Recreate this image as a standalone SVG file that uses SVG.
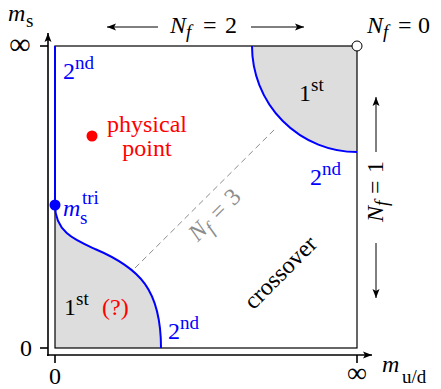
<svg xmlns="http://www.w3.org/2000/svg" width="441" height="389" viewBox="0 0 441 389">
<style>
.t{font-family:"Liberation Serif","DejaVu Serif",serif;font-size:24px;fill:#000}
.i{font-style:italic}
.s{font-size:19px}
.inf{font-size:30px}
.b{fill:#0000ff}
.r{fill:#ff0000}
.g{fill:#8c8c8c}
.ax{stroke:#000;stroke-width:1.6;fill:none}
.ar{stroke:#000;stroke-width:1;fill:none}
.bl{stroke:#0000ff;stroke-width:2;fill:none}
</style>
<defs>
<marker id="ah" markerUnits="userSpaceOnUse" markerWidth="10" markerHeight="8" refX="9" refY="4" orient="auto">
<path d="M0,0.5 L9,4 L0,7.5 L2,4 Z" fill="#000"/>
</marker>
</defs>
<rect width="441" height="389" fill="#fff"/>

<g id="regions">
<path d="M55,205 C55,232 75,240 95,249 C140,268 161,290 161,348 L55,348 Z" fill="#dddddd"/>
<path d="M252,46 A105,106 0 0 0 357,152 L357,46 Z" fill="#dddddd"/>
</g>

<g id="box">
<rect x="55" y="46" width="302" height="302" fill="none" stroke="#000" stroke-width="1.2"/>
</g>

<g id="connectors">
<line x1="135" y1="268" x2="277" y2="127" stroke="#8c8c8c" stroke-width="1" stroke-dasharray="6,4"/>
<path class="bl" d="M55,46 L55,205 C55,232 75,240 95,249 C140,268 161,290 161,348"/>
<path class="bl" d="M252,46 A105,106 0 0 0 357,152"/>
<line class="ax" x1="48" y1="356" x2="48" y2="33" marker-end="url(#ah)"/>
<line class="ax" x1="47" y1="355" x2="372" y2="355" marker-end="url(#ah)"/>
<line class="ax" x1="40" y1="46" x2="48" y2="46"/>
<line class="ax" x1="40" y1="348" x2="48" y2="348"/>
<line class="ax" x1="55" y1="355" x2="55" y2="363"/>
<line class="ax" x1="357" y1="355" x2="357" y2="363"/>
<line class="ar" x1="158" y1="27" x2="107" y2="27" marker-end="url(#ah)"/>
<line class="ar" x1="251" y1="27" x2="304" y2="27" marker-end="url(#ah)"/>
<line class="ar" x1="376" y1="152" x2="376" y2="97" marker-end="url(#ah)"/>
<line class="ar" x1="376" y1="243" x2="376" y2="298" marker-end="url(#ah)"/>
</g>

<g id="points">
<circle cx="357" cy="46" r="5" fill="#fff" stroke="#000" stroke-width="1"/>
<circle cx="55" cy="205" r="5.5" fill="#0000ff"/>
<circle cx="92" cy="136" r="5.5" fill="#ff0000"/>
</g>

<g id="labels">
<text class="t" x="8" y="21"><tspan class="i">m</tspan><tspan class="s" x="26" y="27">s</tspan></text>
<text class="t inf" x="20" y="54" text-anchor="middle">∞</text>
<text class="t" x="26" y="356" text-anchor="middle">0</text>
<text class="t" x="55" y="384" text-anchor="middle">0</text>
<text class="t" x="357" y="382" text-anchor="middle" style="font-size:28px">∞</text>
<text class="t" x="382" y="372"><tspan class="i">m</tspan><tspan class="s" x="402" y="383">u/d</tspan></text>
<text class="t" x="170" y="33"><tspan class="i">N</tspan><tspan class="s i" x="186" y="38">f</tspan><tspan x="203" y="33">=</tspan><tspan x="225">2</tspan></text>
<text class="t" x="367" y="33"><tspan class="i">N</tspan><tspan class="s i" x="383" y="38">f</tspan><tspan x="398" y="33">=</tspan><tspan x="418">0</tspan></text>
<text class="t" transform="translate(383,222) rotate(-90)"><tspan class="i" x="0" y="0">N</tspan><tspan class="s i" x="16" y="5">f</tspan><tspan x="28" y="0">=</tspan><tspan x="49">1</tspan></text>
<text class="t g" transform="translate(219,210) rotate(-45)"><tspan class="i" x="-38" y="8">N</tspan><tspan class="s i" x="-22" y="13">f</tspan><tspan x="-8" y="8">=</tspan><tspan x="13">3</tspan></text>
<text class="t" transform="translate(281,273) rotate(-45)" text-anchor="middle" y="7">crossover</text>
<text class="t r" x="147" y="132" text-anchor="middle">physical</text>
<text class="t r" x="147" y="156" text-anchor="middle">point</text>
<text class="t b" x="63" y="79">2<tspan class="s" dy="-10">nd</tspan></text>
<text class="t b" x="310" y="185">2<tspan class="s" dy="-10">nd</tspan></text>
<text class="t b" x="168" y="339">2<tspan class="s" dy="-10">nd</tspan></text>
<text class="t" x="299" y="101">1<tspan class="s" dy="-10">st</tspan></text>
<text class="t" x="64" y="315">1<tspan class="s" dy="-10">st</tspan></text>
<text class="t r" x="102" y="315">(?)</text>
<text class="t b" x="63" y="216"><tspan class="i">m</tspan><tspan class="s" x="80" y="224">s</tspan><tspan class="s" x="82" y="204">tri</tspan></text>
</g>
</svg>
